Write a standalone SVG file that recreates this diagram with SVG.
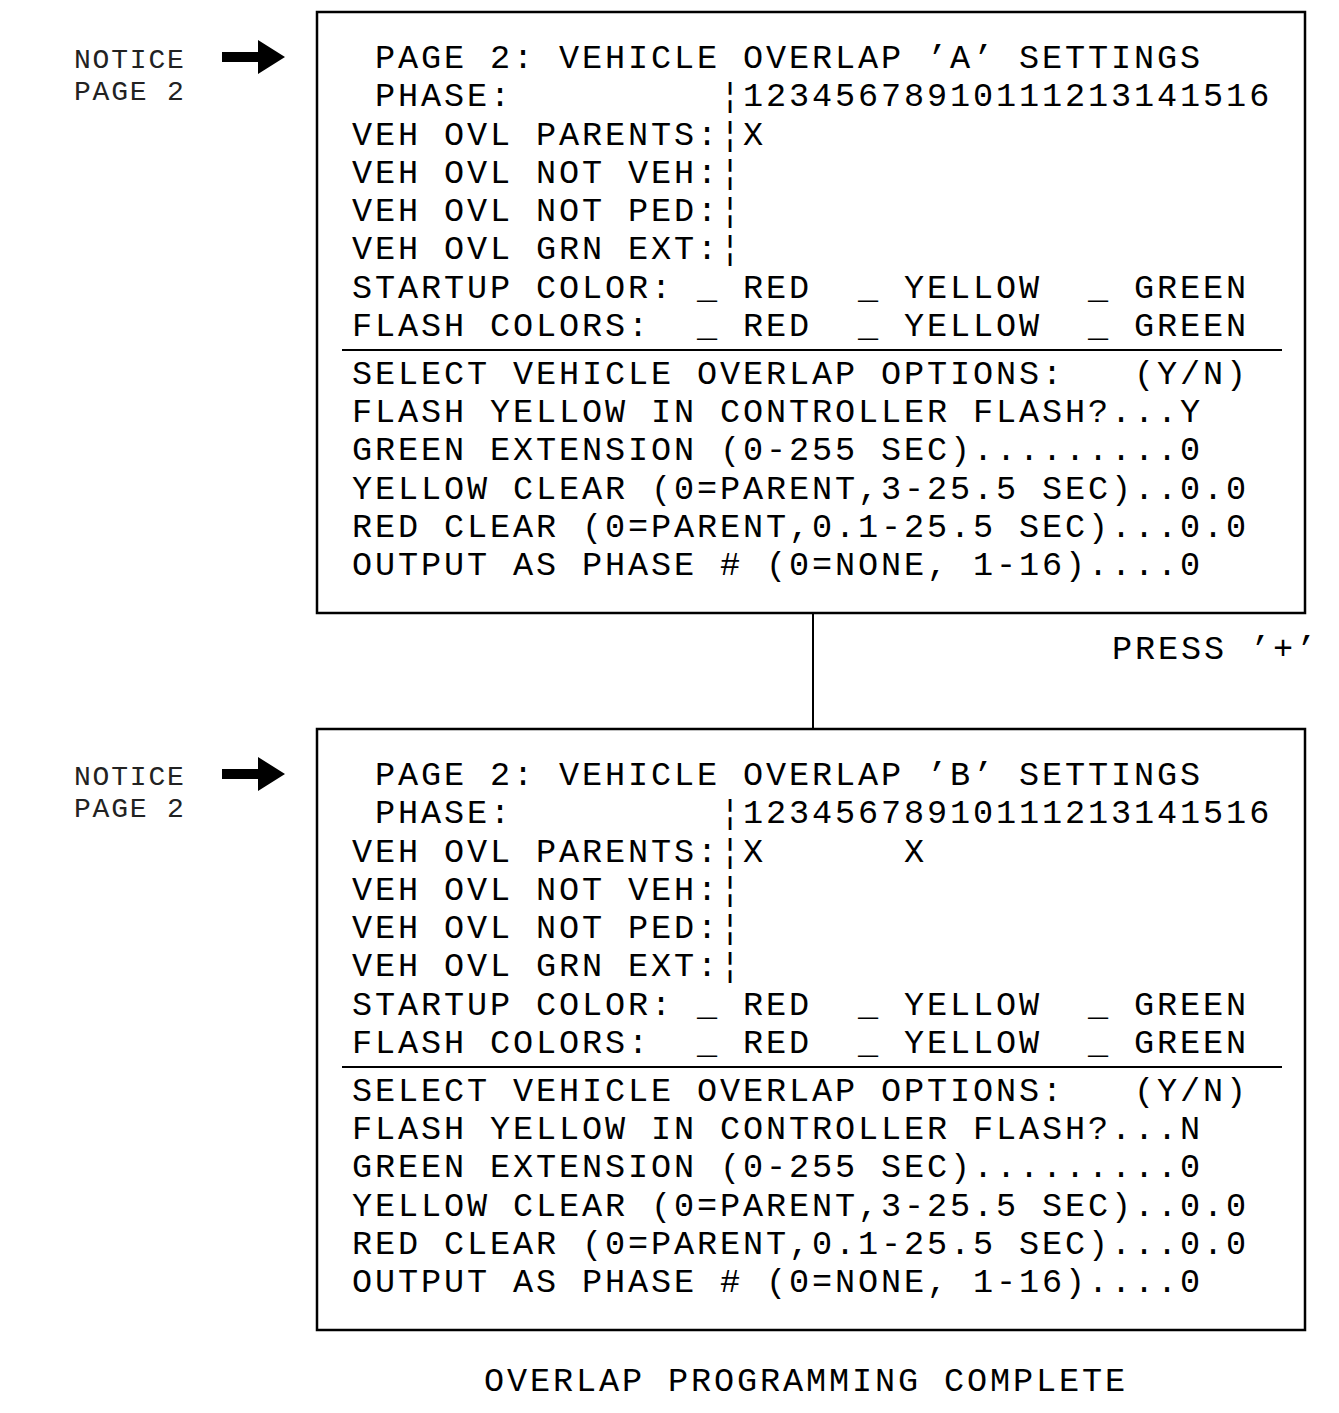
<svg xmlns="http://www.w3.org/2000/svg" width="1339" height="1413" viewBox="0 0 1339 1413" xml:space="preserve">
<style>
  .box{fill:none;stroke:#000;stroke-width:2.5}
  .ln{stroke:#000;stroke-width:2}
  .t{font-family:"Liberation Mono","DejaVu Sans Mono",monospace;font-size:33.5px;letter-spacing:2.9px;fill:#000;white-space:pre}
  .n{font-family:"Liberation Mono","DejaVu Sans Mono",monospace;font-size:28px;letter-spacing:1.8px;fill:#222;white-space:pre}
  .arrow{fill:#000}
</style>
<defs>
  <path id="arr" d="M0,-5 L36,-5 L36,-17 L63,0 L36,17 L36,5 L0,5 Z"/>
</defs>
<g id="connectors">
  <line class="ln" x1="813" y1="613" x2="813" y2="729"/>
</g>
<g id="noticeA">
  <text class="n" x="74" y="68">NOTICE</text>
  <text class="n" x="74" y="100">PAGE 2</text>
  <use href="#arr" class="arrow" x="222" y="57"/>
</g>
<g id="screenA">
  <rect class="box" x="317" y="12" width="988" height="601"/>
  <line class="ln" x1="342" y1="350" x2="1282" y2="350"/>
  <text class="t" x="352" y="68"> PAGE 2: VEHICLE OVERLAP ’A’ SETTINGS</text>
  <text class="t" x="352" y="106"> PHASE:         ¦12345678910111213141516</text>
  <text class="t" x="352" y="145">VEH OVL PARENTS:¦X</text>
  <text class="t" x="352" y="183">VEH OVL NOT VEH:¦</text>
  <text class="t" x="352" y="221">VEH OVL NOT PED:¦</text>
  <text class="t" x="352" y="259">VEH OVL GRN EXT:¦</text>
  <text class="t" x="352" y="298">STARTUP COLOR: _ RED  _ YELLOW  _ GREEN</text>
  <text class="t" x="352" y="336">FLASH COLORS:  _ RED  _ YELLOW  _ GREEN</text>
  <text class="t" x="352" y="384">SELECT VEHICLE OVERLAP OPTIONS:   (Y/N)</text>
  <text class="t" x="352" y="422">FLASH YELLOW IN CONTROLLER FLASH?...Y</text>
  <text class="t" x="352" y="460">GREEN EXTENSION (0-255 SEC).........0</text>
  <text class="t" x="352" y="499">YELLOW CLEAR (0=PARENT,3-25.5 SEC)..0.0</text>
  <text class="t" x="352" y="537">RED CLEAR (0=PARENT,0.1-25.5 SEC)...0.0</text>
  <text class="t" x="352" y="575">OUTPUT AS PHASE # (0=NONE, 1-16)....0</text>
</g>
<g id="press">
  <text class="t" x="1112" y="659">PRESS ’+’</text>
</g>
<g id="noticeB">
  <text class="n" x="74" y="785">NOTICE</text>
  <text class="n" x="74" y="817">PAGE 2</text>
  <use href="#arr" class="arrow" x="222" y="774"/>
</g>
<g id="screenB">
  <rect class="box" x="317" y="729" width="988" height="601"/>
  <line class="ln" x1="342" y1="1067" x2="1282" y2="1067"/>
  <text class="t" x="352" y="785"> PAGE 2: VEHICLE OVERLAP ’B’ SETTINGS</text>
  <text class="t" x="352" y="823"> PHASE:         ¦12345678910111213141516</text>
  <text class="t" x="352" y="862">VEH OVL PARENTS:¦X      X</text>
  <text class="t" x="352" y="900">VEH OVL NOT VEH:¦</text>
  <text class="t" x="352" y="938">VEH OVL NOT PED:¦</text>
  <text class="t" x="352" y="976">VEH OVL GRN EXT:¦</text>
  <text class="t" x="352" y="1015">STARTUP COLOR: _ RED  _ YELLOW  _ GREEN</text>
  <text class="t" x="352" y="1053">FLASH COLORS:  _ RED  _ YELLOW  _ GREEN</text>
  <text class="t" x="352" y="1101">SELECT VEHICLE OVERLAP OPTIONS:   (Y/N)</text>
  <text class="t" x="352" y="1139">FLASH YELLOW IN CONTROLLER FLASH?...N</text>
  <text class="t" x="352" y="1177">GREEN EXTENSION (0-255 SEC).........0</text>
  <text class="t" x="352" y="1216">YELLOW CLEAR (0=PARENT,3-25.5 SEC)..0.0</text>
  <text class="t" x="352" y="1254">RED CLEAR (0=PARENT,0.1-25.5 SEC)...0.0</text>
  <text class="t" x="352" y="1292">OUTPUT AS PHASE # (0=NONE, 1-16)....0</text>
</g>
<g id="complete">
  <text class="t" x="484" y="1391">OVERLAP PROGRAMMING COMPLETE</text>
</g>
</svg>
